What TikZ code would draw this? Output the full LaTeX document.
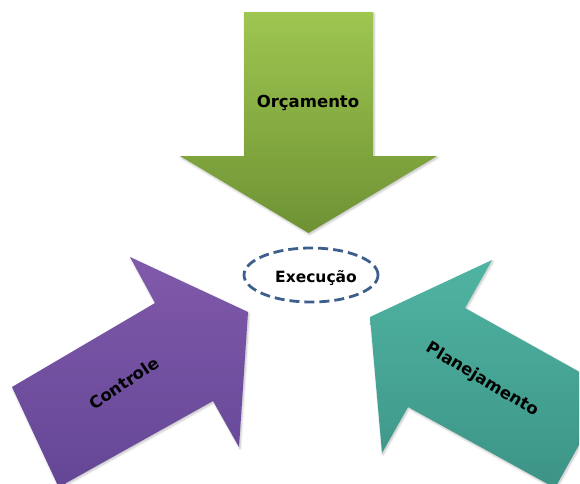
\documentclass[tikz,border=0pt]{standalone}
\usepackage{fontspec}
\setmainfont{DejaVu Sans}
\usetikzlibrary{shapes.geometric,shadows.blur}

\definecolor{budgetTop}{RGB}{158,198,80}
\definecolor{budgetBot}{RGB}{110,146,52}
\definecolor{controlTop}{RGB}{128,89,170}
\definecolor{controlBot}{RGB}{100,70,150}
\definecolor{planTop}{RGB}{80,180,162}
\definecolor{planBot}{RGB}{60,148,134}
\definecolor{execLine}{RGB}{62,94,140}

\tikzset{
  blockarrow/.style={blur shadow={shadow xshift=1pt, shadow yshift=-1.5pt,
      shadow blur steps=6, shadow opacity=25}},
  arrowlabel/.style={font=\bfseries\fontsize{16.5}{19}\selectfont, text=black, inner sep=0pt},
  execring/.style={ellipse, draw=execLine, line width=2.8pt,
      dash pattern=on 10pt off 5pt, fill=white,
      minimum width=134pt, minimum height=54pt, inner sep=0pt}
}

\begin{document}
\begin{tikzpicture}[x=1pt, y=-1pt]
\useasboundingbox (0,0) rectangle (580,483);
\clip (0,0) rectangle (579,483);

% Orcamento: arrow pointing down
\path[blockarrow, top color=budgetTop, bottom color=budgetBot]
  (244,12) -- (373,12) -- (373,156) -- (437,156) -- (308.5,233)
  -- (180,156) -- (244,156) -- cycle;

% Controle: arrow pointing up and right
\path[blockarrow, top color=controlTop, bottom color=controlBot]
  (12,387) -- (155,303) -- (130,257) -- (248,312) -- (239,447)
  -- (213,401) -- (66,483) -- (60,490) -- cycle;

% Planejamento: arrow pointing up and left
\path[blockarrow, top color=planTop, bottom color=planBot]
  (370,317) -- (492,260) -- (465,308) -- (610,389) -- (555,488)
  -- (408,407) -- (382,453) -- cycle;

% Execucao in the middle
\node[execring] (exec) at (311,275) {};
\node[arrowlabel, font=\bfseries\fontsize{15.5}{18}\selectfont] (execlabel) at (316,278) {Execução};

\node[arrowlabel] (budget) at (308,103) {Orçamento};
\node[arrowlabel, rotate=34] (control) at (124,383) {Controle};
\node[arrowlabel, rotate=-31] (plan) at (482,380) {Planejamento};
\end{tikzpicture}
\end{document}
